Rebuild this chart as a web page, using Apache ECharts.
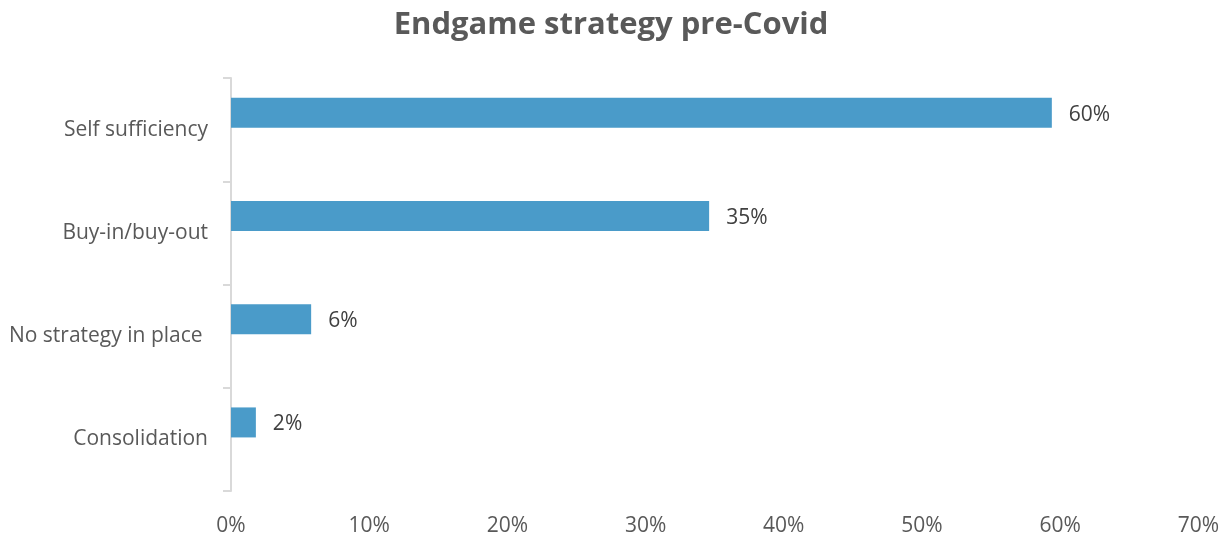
<!DOCTYPE html>
<html>
<head>
<meta charset="utf-8">
<script src="https://cdn.jsdelivr.net/npm/echarts@6/dist/echarts.min.js"></script>
<style>
html,body{margin:0;padding:0;background:#fff;}
#chart{width:1222px;height:537px;}
</style>
</head>
<body>
<div id="chart"></div>
<script>
const titleText = 'Endgame strategy pre-Covid';
const categories = ['Self sufficiency', 'Buy-in/buy-out', 'No strategy in place ', 'Consolidation'];
const values = [59.4, 34.6, 5.8, 1.8];
const valueLabels = ['60%', '35%', '6%', '2%'];
const emptySeries = [null, null, null, null];
const xTicks = [0, 10, 20, 30, 40, 50, 60, 70];

const FONT = '"Open Sans", sans-serif';
const chart = echarts.init(document.getElementById('chart'));
chart.setOption({
  animation: false,
  title: {
    text: titleText,
    left: 'center',
    top: 5,
    textStyle: { fontFamily: FONT, fontSize: 31, fontWeight: 'bold', color: '#595959' }
  },
  grid: { left: 231, right: 22, top: 78, bottom: 45, containLabel: false },
  xAxis: {
    type: 'value',
    min: xTicks[0],
    max: xTicks[xTicks.length - 1],
    interval: 10,
    axisLine: { show: false },
    axisTick: { show: false },
    splitLine: { show: false },
    axisLabel: {
      margin: 25,
      fontFamily: FONT, fontSize: 21, color: '#595959',
      formatter: v => v + '%'
    }
  },
  yAxis: {
    type: 'category',
    inverse: true,
    data: categories,
    axisLine: { show: true, lineStyle: { color: '#d9d9d9', width: 2 } },
    axisTick: { show: true, length: 8, lineStyle: { color: '#d9d9d9', width: 2 } },
    axisLabel: { margin: 23, padding: [4, 0, 0, 0], fontFamily: FONT, fontSize: 21, color: '#595959' }
  },
  series: [
    {
      type: 'bar',
      data: values,
      barWidth: 30,
      barGap: '13%',
      itemStyle: { color: '#4a9bc9' },
      label: {
        show: true,
        position: 'right',
        distance: 17,
        offset: [0, 2],
        fontFamily: FONT, fontSize: 21, color: '#404040',
        formatter: p => valueLabels[p.dataIndex]
      }
    },
    {
      type: 'bar',
      data: emptySeries,
      barWidth: 30,
      itemStyle: { color: '#4a9bc9' }
    }
  ]
});
</script>
</body>
</html>
